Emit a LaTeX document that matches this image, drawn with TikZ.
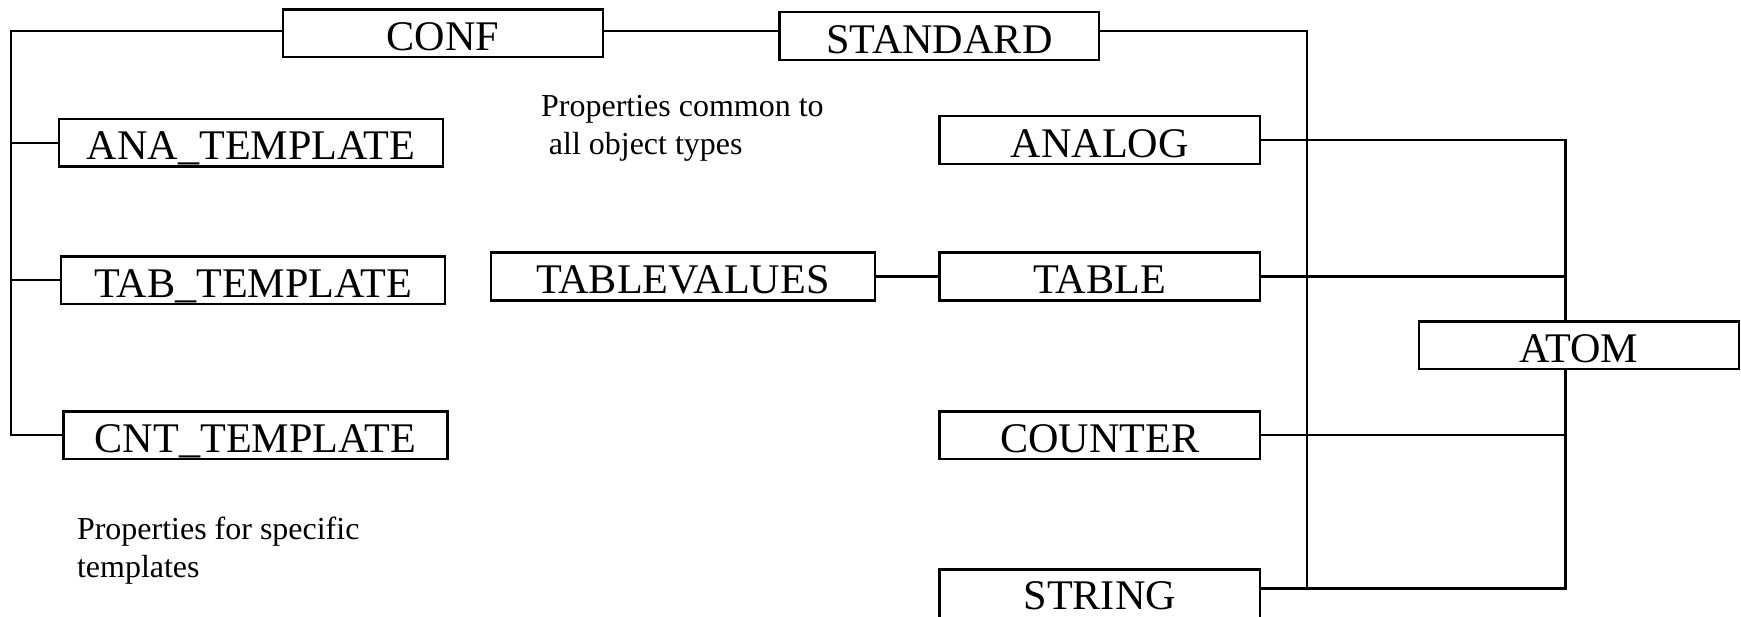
\documentclass[tikz,border=0pt]{standalone}
\usepackage{fontspec}
\setmainfont{Liberation Serif}
\begin{document}
\begin{tikzpicture}[x=0.5pt,y=-0.5pt,
  box/.style={draw,line width=1.1pt,rectangle,inner sep=0pt,minimum height=21.5pt,text height=15.5pt,text depth=0pt,font=\fontsize{19}{22}\selectfont},
  ln/.style={line width=1pt},
  note/.style={inner sep=0pt,anchor=base west,font=\fontsize{14.4}{17}\selectfont}]
\useasboundingbox (0,0) rectangle (1568,555);
% boxes
\node[box,minimum width=144pt] (conf) at (399,30) {CONF};
\node[box,minimum width=144pt] (std) at (846,32.5) {STANDARD};
\node[box,minimum width=173pt] (ana) at (226,128.5) {ANA\_TEMPLATE};
\node[box,minimum width=173pt] (tab) at (228,252.5) {TAB\_TEMPLATE};
\node[box,minimum width=173pt] (cnt) at (230,392) {CNT\_TEMPLATE};
\node[box,minimum width=173pt] (tv) at (615,249) {TABLEVALUES};
\node[box,minimum width=144.5pt] (analog) at (990.5,126) {ANALOG};
\node[box,minimum width=144.5pt] (table) at (990.5,249) {TABLE};
\node[box,minimum width=144.5pt] (counter) at (990.5,392) {COUNTER};
\node[box,minimum width=144.5pt,minimum height=25pt,text height=10.5pt] (string) at (990.5,538) {STRING};
\node[box,minimum width=144pt] (atom) at (1422,311) {ATOM};
% notes
\node[note] (n1) at (487,105) {Properties common to};
\node[note] (n2) at (494,139.5) {all object types};
\node[note] (n3) at (69,486) {Properties for specific};
\node[note] (n4) at (69,520) {templates};
% bus coordinates
\coordinate (lbus) at (10,28);
\coordinate (rbus) at (1177,28);
\coordinate (sbot) at (1177,530);
\coordinate (abus) at (1410,127);
% left tree
\draw[ln] (conf.west |- lbus) -- (lbus) -- (lbus |- cnt.west) -- (cnt.west);
\draw[ln] (ana.west) -- (ana.west -| lbus);
\draw[ln] (tab.west) -- (tab.west -| lbus);
% top
\draw[ln] (conf.east |- lbus) -- (std.west |- lbus);
\draw[ln] (std.east |- rbus) -- (rbus) -- (sbot) -- (sbot -| string.east);
% right tree
\draw[ln] (analog.east) -- (analog.east -| abus) -- (abus |- atom.north);
\draw[ln] (abus |- atom.south) -- (abus |- sbot) -- (sbot);
\draw[ln] (table.east) -- (table.east -| abus);
\draw[ln] (counter.east) -- (counter.east -| abus);
\draw[ln] (tv.east) -- (table.west);
\end{tikzpicture}
\end{document}
